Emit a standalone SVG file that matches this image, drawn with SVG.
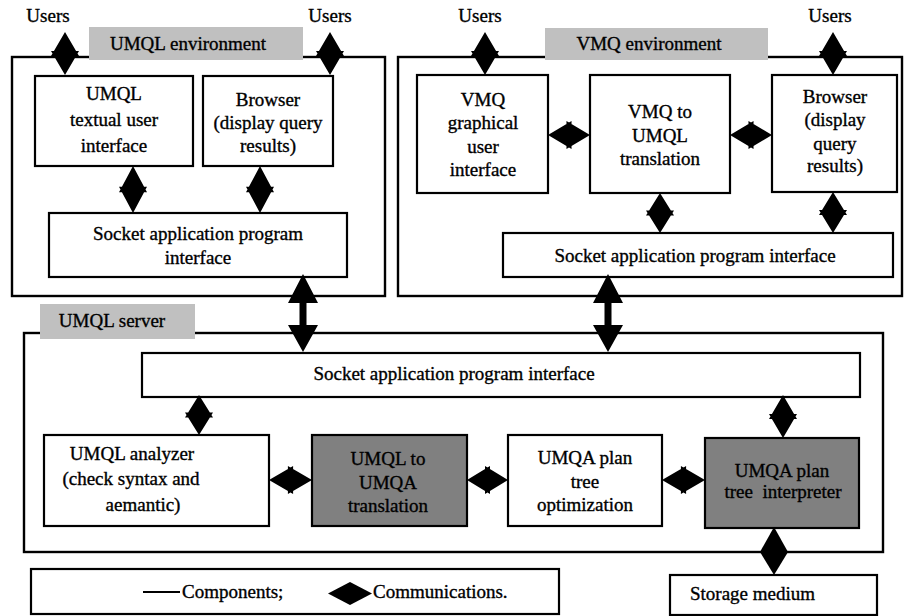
<svg xmlns="http://www.w3.org/2000/svg" xmlns:xlink="http://www.w3.org/1999/xlink" width="904" height="616" viewBox="0 0 904 616" font-family="'Liberation Serif', 'Times New Roman', serif">
<defs>
<style>
text{font-family:'Liberation Serif','Times New Roman',serif;font-size:19px;fill:#000;stroke:#000;stroke-width:0.35}
.m{text-anchor:middle}
.box{fill:#fff;stroke:#000;stroke-width:2.2}
.outer{fill:none;stroke:#000;stroke-width:2.4}
.lbl{fill:#c0c0c0;stroke:none}
.dark{fill:#808080;stroke:#000;stroke-width:2.2}
.arr{fill:#000;stroke:none}
</style>
<path id="dbl" d="M0,-24 L14,2.9 L-14,2.9 Z M0,24 L-14,-2.9 L14,-2.9 Z"/>
</defs>
<rect width="904" height="616" fill="#fff"/>

<g id="umql-env">
<rect class="outer" x="12" y="57" width="373" height="239"/>
<rect class="lbl" x="89" y="27" width="214" height="33"/>
<text class="m" x="188" y="50">UMQL environment</text>
<text class="m" x="48" y="22">Users</text>
<text class="m" x="330" y="22">Users</text>
</g>
<g id="umql-textual-ui">
<rect class="box" x="35" y="76" width="158" height="90"/>
<text class="m" x="114" y="100">UMQL</text>
<text class="m" x="114" y="126">textual user</text>
<text class="m" x="114" y="152">interface</text>
</g>
<g id="umql-browser">
<rect class="box" x="203" y="76" width="130" height="90"/>
<text class="m" x="268" y="106">Browser</text>
<text class="m" x="268" y="129">(display query</text>
<text class="m" x="268" y="152">results)</text>
</g>
<g id="umql-socket">
<rect class="box" x="49" y="213" width="298" height="64"/>
<text class="m" x="198" y="240">Socket application program</text>
<text class="m" x="198" y="264">interface</text>
</g>

<g id="vmq-env">
<rect class="outer" x="398" y="57" width="504" height="239"/>
<rect class="lbl" x="545" y="28" width="223" height="32"/>
<text class="m" x="649" y="50">VMQ environment</text>
<text class="m" x="480" y="22">Users</text>
<text class="m" x="830" y="22">Users</text>
</g>
<g id="vmq-gui">
<rect class="box" x="417" y="75" width="131" height="118"/>
<text class="m" x="483" y="106">VMQ</text>
<text class="m" x="483" y="129">graphical</text>
<text class="m" x="483" y="153">user</text>
<text class="m" x="483" y="176">interface</text>
</g>
<g id="vmq-translation">
<rect class="box" x="590" y="75" width="140" height="118"/>
<text class="m" x="660" y="118">VMQ to</text>
<text class="m" x="660" y="142">UMQL</text>
<text class="m" x="660" y="165">translation</text>
</g>
<g id="vmq-browser">
<rect class="box" x="772" y="75" width="125" height="117"/>
<text class="m" x="835" y="103">Browser</text>
<text class="m" x="835" y="126">(display</text>
<text class="m" x="835" y="150">query</text>
<text class="m" x="835" y="172">results)</text>
</g>
<g id="vmq-socket">
<rect class="box" x="503" y="233" width="390" height="44"/>
<text class="m" x="695" y="262">Socket application program interface</text>
</g>

<g id="umql-server">
<rect class="outer" x="24" y="333" width="859" height="219"/>
<rect class="lbl" x="40" y="304" width="155" height="35"/>
<text class="m" x="112" y="327">UMQL server</text>
</g>
<g id="server-socket">
<rect class="box" x="142" y="353" width="718" height="44"/>
<text class="m" x="454" y="380">Socket application program interface</text>
</g>
<g id="umql-analyzer">
<rect class="box" x="44" y="435" width="225" height="91"/>
<text class="m" x="132" y="460">UMQL analyzer</text>
<text class="m" x="131" y="485">(check syntax and</text>
<text class="m" x="143" y="511">aemantic)</text>
</g>
<g id="umql-to-umqa">
<rect class="dark" x="312" y="435" width="155" height="91"/>
<text class="m" x="388" y="465">UMQL to</text>
<text class="m" x="388" y="489">UMQA</text>
<text class="m" x="388" y="512">translation</text>
</g>
<g id="umqa-optimization">
<rect class="box" x="508" y="435" width="154" height="91"/>
<text class="m" x="585" y="464">UMQA plan</text>
<text class="m" x="585" y="488">tree</text>
<text class="m" x="585" y="511">optimization</text>
</g>
<g id="umqa-interpreter">
<rect class="dark" x="705" y="438" width="154" height="90"/>
<text class="m" x="782" y="477">UMQA plan</text>
<text class="m" x="783" y="498" style="white-space:pre">tree  interpreter</text>
</g>
<g id="storage">
<rect class="box" x="670" y="575" width="207" height="40"/>
<text x="690" y="600">Storage medium</text>
</g>

<g id="legend">
<rect class="box" x="31" y="569" width="528" height="45"/>
<line x1="143" y1="592" x2="180" y2="592" stroke="#000" stroke-width="2"/>
<text x="182" y="598">Components;</text>
<path class="arr" d="M328,593.5 L350,582 L372,593.5 L350,605 Z"/>
<text x="373" y="598">Communications.</text>
</g>

<g id="connectors" class="arr">
<use xlink:href="#dbl" transform="translate(65,53.5) scale(1,0.896)"/>
<use xlink:href="#dbl" transform="translate(330,53.5) scale(1,0.896)"/>
<use xlink:href="#dbl" transform="translate(133,189.5) scale(1,0.98)"/>
<use xlink:href="#dbl" transform="translate(260,189.5) scale(1,0.98)"/>
<use xlink:href="#dbl" transform="translate(485,53.5) scale(1,0.896)"/>
<use xlink:href="#dbl" transform="translate(833,53.5) scale(1,0.896)"/>
<use xlink:href="#dbl" transform="translate(660,213) scale(1,0.833)"/>
<use xlink:href="#dbl" transform="translate(833,212.5) scale(1,0.854)"/>
<use xlink:href="#dbl" transform="translate(199,415) scale(1,0.833)"/>
<use xlink:href="#dbl" transform="translate(783,416.5) scale(1,0.896)"/>
<use xlink:href="#dbl" transform="translate(569,135) rotate(90) scale(1,0.875)"/>
<use xlink:href="#dbl" transform="translate(751,135) rotate(90) scale(1,0.875)"/>
<use xlink:href="#dbl" transform="translate(290.5,480) rotate(90) scale(1,0.896)"/>
<use xlink:href="#dbl" transform="translate(487.5,480) rotate(90) scale(1,0.854)"/>
<use xlink:href="#dbl" transform="translate(683.5,480) rotate(90) scale(1,0.896)"/>
<path d="M774,527 L788,552 L774,575 L760,552 Z"/>
<path d="M303,274 L318,303 L306.5,303 L306.5,325 L318,325 L303,352 L288,325 L299.5,325 L299.5,303 L288,303 Z"/>
<path d="M608,274 L623,303 L611.5,303 L611.5,325 L623,325 L608,352 L593,325 L604.5,325 L604.5,303 L593,303 Z"/>
</g>
</svg>
